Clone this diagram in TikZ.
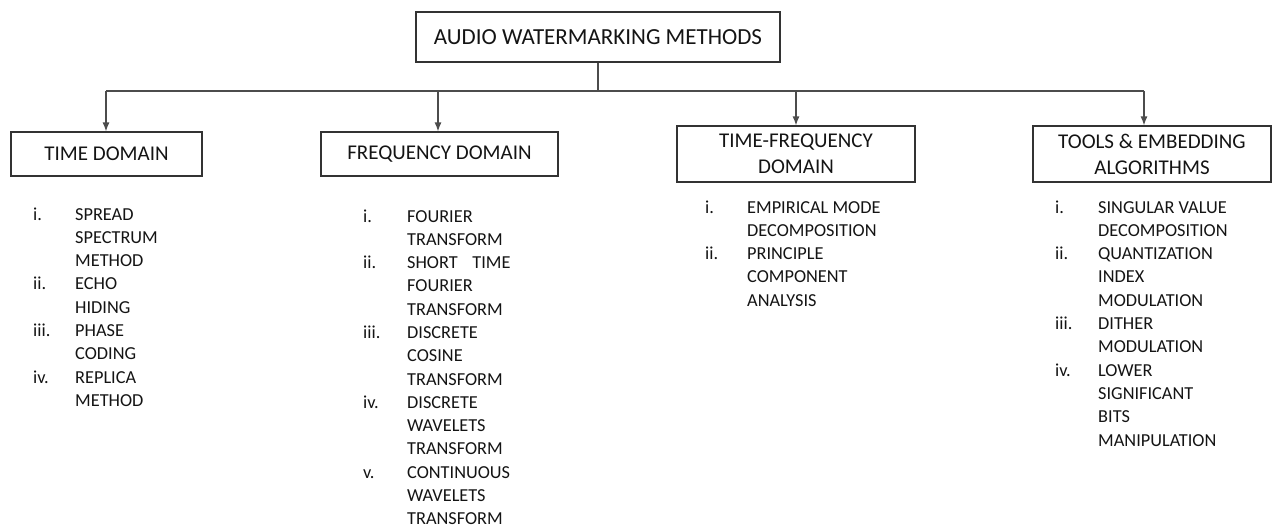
\documentclass[tikz,border=0pt]{standalone}
\usepackage{fontspec}
\setmainfont{Carlito}
\usetikzlibrary{arrows.meta}

\tikzset{
  box/.style={draw=black!80, line width=1.2pt, inner sep=0pt, align=center,
    text=black!92, font=\fontsize{21}{26}\selectfont},
  conn/.style={draw=black!70, line width=1.2pt},
  arr/.style={conn, -{Latex[length=9pt,width=7pt]}},
  elenco/.style={anchor=base west, inner sep=0pt, text=black!92,
    font=\fontsize{18.3}{23.3}\selectfont}
}

\begin{document}
\begin{tikzpicture}[x=1pt,y=-1pt]
\useasboundingbox (0,0) rectangle (1275,527);
%riquadri
\node[box, minimum width=364pt, minimum height=50pt, font=\fontsize{23}{28}\selectfont] (root) at (598,37) {AUDIO WATERMARKING METHODS};
\node[box, minimum width=191pt, minimum height=44pt] (time) at (106.5,154) {TIME DOMAIN};
\node[box, minimum width=237pt, minimum height=44pt] (freq) at (439.5,154) {FREQUENCY DOMAIN};
\node[box, minimum width=238pt, minimum height=56pt] (tf) at (796,154) {TIME-FREQUENCY\\DOMAIN};
\node[box, minimum width=238pt, minimum height=56pt] (tools) at (1152,154) {TOOLS \& EMBEDDING\\ALGORITHMS};
%frecce
\coordinate (d1) at (106,91);
\coordinate (d2) at (438,91);
\coordinate (d3) at (796,91);
\coordinate (d4) at (1144,91);
\draw[conn] (root.south) -- (root.south |- d1);
\draw[conn] (d1) -- (d4);
\draw[arr] (d1) -- (d1 |- time.north);
\draw[arr] (d2) -- (d2 |- freq.north);
\draw[arr] (d3) -- (d3 |- tf.north);
\draw[arr] (d4) -- (d4 |- tools.north);
%elenchi
\node[elenco] (timelist) at (33,220) {\begin{tabular}[t]{@{}p{42pt}@{}l@{}}
i. & SPREAD\\ & SPECTRUM\\ & METHOD\\
ii. & ECHO\\ & HIDING\\
iii. & PHASE\\ & CODING\\
iv. & REPLICA\\ & METHOD
\end{tabular}};
\node[elenco] (freqlist) at (363,222) {\begin{tabular}[t]{@{}p{44pt}@{}l@{}}
i. & FOURIER\\ & TRANSFORM\\
ii. & SHORT\hspace{0.8em}TIME\\ & FOURIER\\ & TRANSFORM\\
iii. & DISCRETE\\ & COSINE\\ & TRANSFORM\\
iv. & DISCRETE\\ & WAVELETS\\ & TRANSFORM\\
v. & CONTINUOUS\\ & WAVELETS\\ & TRANSFORM
\end{tabular}};
\node[elenco] (tflist) at (705,213) {\begin{tabular}[t]{@{}p{42pt}@{}l@{}}
i. & EMPIRICAL MODE\\ & DECOMPOSITION\\
ii. & PRINCIPLE\\ & COMPONENT\\ & ANALYSIS
\end{tabular}};
\node[elenco] (toolslist) at (1055,213) {\begin{tabular}[t]{@{}p{43pt}@{}l@{}}
i. & SINGULAR VALUE\\ & DECOMPOSITION\\
ii. & QUANTIZATION\\ & INDEX\\ & MODULATION\\
iii. & DITHER\\ & MODULATION\\
iv. & LOWER\\ & SIGNIFICANT\\ & BITS\\ & MANIPULATION
\end{tabular}};
\end{tikzpicture}
\end{document}
